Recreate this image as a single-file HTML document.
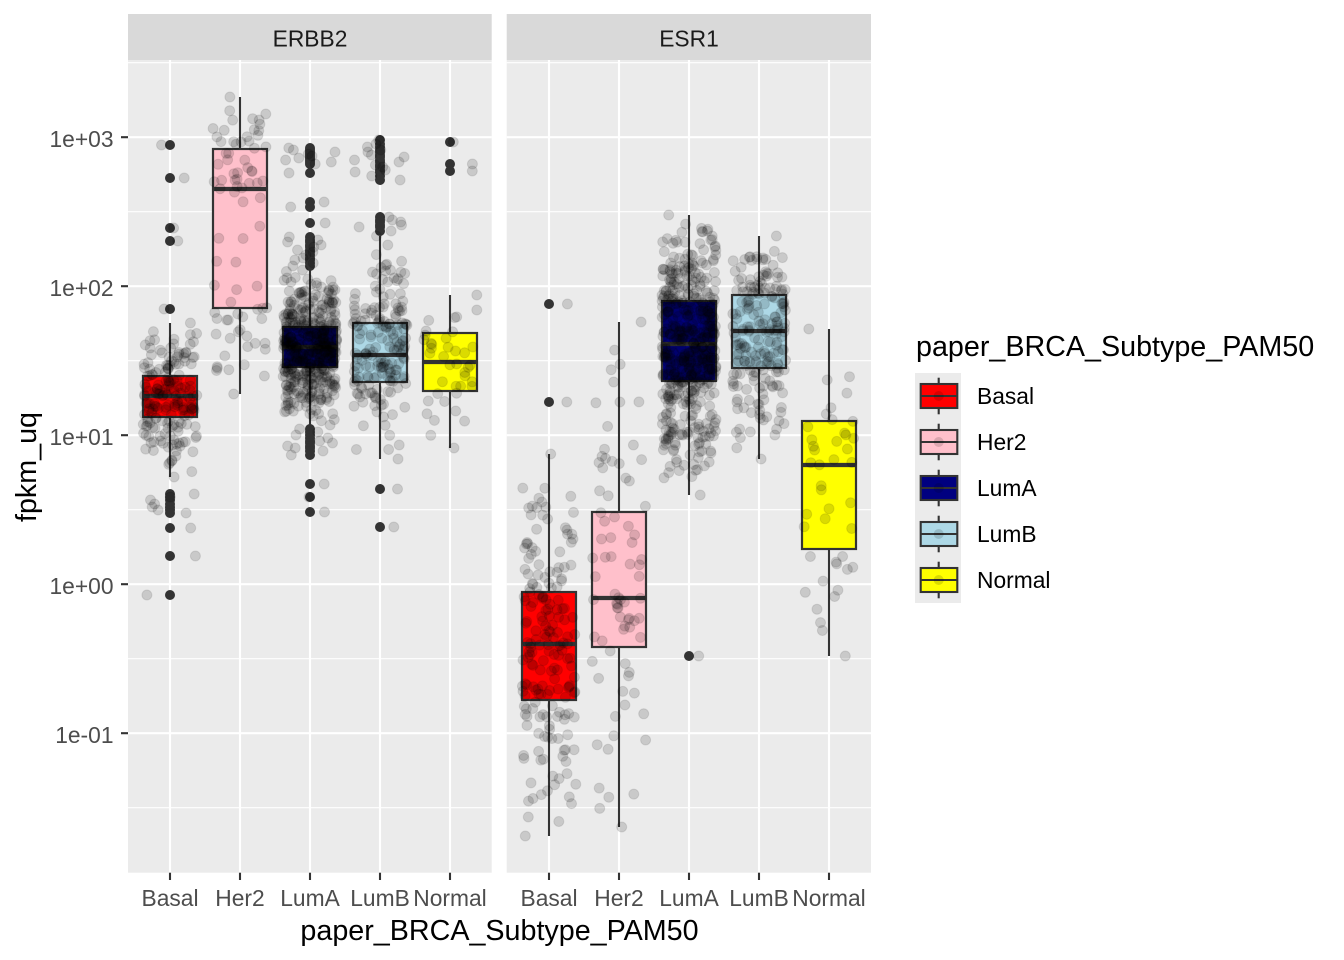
<!DOCTYPE html>
<html><head><meta charset="utf-8"><style>
html,body{margin:0;padding:0;background:#fff;}
svg{display:block;font-family:"Liberation Sans",Arial,sans-serif;}
</style></head><body>
<svg id="c" width="1344" height="960" viewBox="0 0 1344 960" xmlns="http://www.w3.org/2000/svg">
<rect width="1344" height="960" fill="#fff"/>
<!-- strips -->
<rect x="128" y="14" width="363.7" height="46" fill="#D9D9D9"/>
<rect x="506.7" y="14" width="364.3" height="46" fill="#D9D9D9"/>
<text x="310" y="46.5" font-size="22.8" text-anchor="middle" fill="#1A1A1A">ERBB2</text>
<text x="689" y="46.5" font-size="22.8" text-anchor="middle" fill="#1A1A1A">ESR1</text>
<!-- panels -->
<rect x="128" y="60" width="363.7" height="812.7" fill="#EBEBEB"/>
<rect x="506.7" y="60" width="364.3" height="812.7" fill="#EBEBEB"/>
<g stroke="#fff" stroke-width="1.1">
<line x1="128" x2="491.7" y1="62.7" y2="62.7"/><line x1="128" x2="491.7" y1="211.7" y2="211.7"/><line x1="128" x2="491.7" y1="360.7" y2="360.7"/><line x1="128" x2="491.7" y1="509.7" y2="509.7"/><line x1="128" x2="491.7" y1="658.7" y2="658.7"/><line x1="128" x2="491.7" y1="807.7" y2="807.7"/>
<line x1="506.7" x2="871" y1="62.7" y2="62.7"/><line x1="506.7" x2="871" y1="211.7" y2="211.7"/><line x1="506.7" x2="871" y1="360.7" y2="360.7"/><line x1="506.7" x2="871" y1="509.7" y2="509.7"/><line x1="506.7" x2="871" y1="658.7" y2="658.7"/><line x1="506.7" x2="871" y1="807.7" y2="807.7"/>
</g>
<g stroke="#fff" stroke-width="2.1">
<line x1="128" x2="491.7" y1="137.2" y2="137.2"/><line x1="128" x2="491.7" y1="286.2" y2="286.2"/><line x1="128" x2="491.7" y1="435.2" y2="435.2"/><line x1="128" x2="491.7" y1="584.2" y2="584.2"/><line x1="128" x2="491.7" y1="733.2" y2="733.2"/>
<line x1="506.7" x2="871" y1="137.2" y2="137.2"/><line x1="506.7" x2="871" y1="286.2" y2="286.2"/><line x1="506.7" x2="871" y1="435.2" y2="435.2"/><line x1="506.7" x2="871" y1="584.2" y2="584.2"/><line x1="506.7" x2="871" y1="733.2" y2="733.2"/>
<line x1="170" x2="170" y1="60" y2="872.7"/><line x1="240" x2="240" y1="60" y2="872.7"/><line x1="310" x2="310" y1="60" y2="872.7"/><line x1="380" x2="380" y1="60" y2="872.7"/><line x1="450" x2="450" y1="60" y2="872.7"/>
<line x1="549" x2="549" y1="60" y2="872.7"/><line x1="619" x2="619" y1="60" y2="872.7"/><line x1="689" x2="689" y1="60" y2="872.7"/><line x1="759" x2="759" y1="60" y2="872.7"/><line x1="829" x2="829" y1="60" y2="872.7"/>
</g>
<!-- outliers (filled by script) -->
<g id="out" fill="#333333"></g>
<!-- whiskers -->
<g stroke="#333333" stroke-width="2.1">
<line x1="170" x2="170" y1="323" y2="477"/>
<line x1="240" x2="240" y1="97" y2="394"/>
<line x1="310" x2="310" y1="270" y2="425"/>
<line x1="380" x2="380" y1="236" y2="459"/>
<line x1="450" x2="450" y1="295" y2="448"/>
<line x1="549" x2="549" y1="454" y2="836"/>
<line x1="619" x2="619" y1="322" y2="827"/>
<line x1="689" x2="689" y1="215" y2="495"/>
<line x1="759" x2="759" y1="236" y2="459"/>
<line x1="829" x2="829" y1="329" y2="656"/>
</g>
<!-- boxes -->
<g stroke="#333333" stroke-width="2.2">
<rect x="143" y="376" width="54" height="41" fill="#FF0000"/>
<rect x="213" y="149" width="54" height="159" fill="#FFC0CB"/>
<rect x="283" y="327" width="54" height="40" fill="#000080"/>
<rect x="353" y="323" width="54" height="59" fill="#ADD8E6"/>
<rect x="423" y="333" width="54" height="58" fill="#FFFF00"/>
<rect x="522" y="592" width="54" height="108" fill="#FF0000"/>
<rect x="592" y="512" width="54" height="135" fill="#FFC0CB"/>
<rect x="662" y="301" width="54" height="80" fill="#000080"/>
<rect x="732" y="295" width="54" height="73" fill="#ADD8E6"/>
<rect x="802" y="421" width="54" height="128" fill="#FFFF00"/>
</g>
<g stroke="#333333" stroke-width="4.3">
<line x1="143" x2="197" y1="396" y2="396"/>
<line x1="213" x2="267" y1="189" y2="189"/>
<line x1="283" x2="337" y1="347" y2="347"/>
<line x1="353" x2="407" y1="355" y2="355"/>
<line x1="423" x2="477" y1="362" y2="362"/>
<line x1="522" x2="576" y1="644" y2="644"/>
<line x1="592" x2="646" y1="598" y2="598"/>
<line x1="662" x2="716" y1="344" y2="344"/>
<line x1="732" x2="786" y1="331" y2="331"/>
<line x1="802" x2="856" y1="465" y2="465"/>
</g>
<!-- jitter points (filled by script) -->
<g id="pts" fill="#000" fill-opacity="0.14" stroke="#000" stroke-opacity="0.1" stroke-width="1"></g>
<!-- axis ticks -->
<g stroke="#333333" stroke-width="2.1">
<line x1="121" x2="128" y1="137.2" y2="137.2"/><line x1="121" x2="128" y1="286.2" y2="286.2"/><line x1="121" x2="128" y1="435.2" y2="435.2"/><line x1="121" x2="128" y1="584.2" y2="584.2"/><line x1="121" x2="128" y1="733.2" y2="733.2"/>
<line x1="170" x2="170" y1="872.7" y2="880"/><line x1="240" x2="240" y1="872.7" y2="880"/><line x1="310" x2="310" y1="872.7" y2="880"/><line x1="380" x2="380" y1="872.7" y2="880"/><line x1="450" x2="450" y1="872.7" y2="880"/>
<line x1="549" x2="549" y1="872.7" y2="880"/><line x1="619" x2="619" y1="872.7" y2="880"/><line x1="689" x2="689" y1="872.7" y2="880"/><line x1="759" x2="759" y1="872.7" y2="880"/><line x1="829" x2="829" y1="872.7" y2="880"/>
</g>
<g font-size="22.8" fill="#4D4D4D" text-anchor="end">
<text x="113.5" y="147">1e+03</text>
<text x="113.5" y="296">1e+02</text>
<text x="113.5" y="445">1e+01</text>
<text x="113.5" y="594">1e+00</text>
<text x="113.5" y="743">1e-01</text>
</g>
<g font-size="22.8" fill="#4D4D4D" text-anchor="middle">
<text x="170" y="906">Basal</text><text x="240" y="906">Her2</text><text x="310" y="906">LumA</text><text x="380" y="906">LumB</text><text x="450" y="906">Normal</text>
<text x="549" y="906">Basal</text><text x="619" y="906">Her2</text><text x="689" y="906">LumA</text><text x="759" y="906">LumB</text><text x="829" y="906">Normal</text>
</g>
<text x="499.5" y="940" font-size="28.7" text-anchor="middle" fill="#000">paper_BRCA_Subtype_PAM50</text>
<text transform="translate(36,467) rotate(-90)" font-size="28.7" text-anchor="middle" fill="#000">fpkm_uq</text>
<!-- legend -->
<text x="916" y="356" font-size="28.7" fill="#000">paper_BRCA_Subtype_PAM50</text>
<rect x="915" y="373" width="46" height="230" fill="#EBEBEB"/>
<g stroke="#333333" stroke-width="2.1">
<line x1="938.7" x2="938.7" y1="377.7" y2="414.3"/>
<line x1="938.7" x2="938.7" y1="423.7" y2="460.3"/>
<line x1="938.7" x2="938.7" y1="469.7" y2="506.3"/>
<line x1="938.7" x2="938.7" y1="515.7" y2="552.3"/>
<line x1="938.7" x2="938.7" y1="561.7" y2="598.3"/>
<rect x="920.7" y="384" width="36.6" height="24" fill="#FF0000"/>
<rect x="920.7" y="430" width="36.6" height="24" fill="#FFC0CB"/>
<rect x="920.7" y="476" width="36.6" height="24" fill="#000080"/>
<rect x="920.7" y="522" width="36.6" height="24" fill="#ADD8E6"/>
<rect x="920.7" y="568" width="36.6" height="24" fill="#FFFF00"/>
<line x1="920.7" x2="957.3" y1="396" y2="396"/>
<line x1="920.7" x2="957.3" y1="442" y2="442"/>
<line x1="920.7" x2="957.3" y1="488" y2="488"/>
<line x1="920.7" x2="957.3" y1="534" y2="534"/>
<line x1="920.7" x2="957.3" y1="580" y2="580"/>
</g>
<g fill="#000" fill-opacity="0.14">
<circle cx="938.7" cy="396" r="5"/><circle cx="938.7" cy="442" r="5"/><circle cx="938.7" cy="488" r="5"/><circle cx="938.7" cy="534" r="5"/><circle cx="938.7" cy="580" r="5"/>
</g>
<g font-size="22.8" fill="#000">
<text x="977" y="404">Basal</text>
<text x="977" y="450">Her2</text>
<text x="977" y="496">LumA</text>
<text x="977" y="542">LumB</text>
<text x="977" y="588">Normal</text>
</g>
</svg>
<script>
(function(){
var NS="http://www.w3.org/2000/svg";
var s=20240611;
function r(){s|=0;s=s+0x6D2B79F5|0;var t=Math.imul(s^s>>>15,1|s);t=t+Math.imul(t^t>>>7,61|t)^t;return((t^t>>>14)>>>0)/4294967296;}
var G=[
[170,323,376,396,417,477,175,[145,178,228,241,309,494,497,500,504,507,510,513,528,556,595]],
[240,97,149,189,308,394,78,[]],
[310,270,327,347,367,425,470,[148,150,152,154,156,158,160,162,164,173,202,207,223,237,240,242,245,247,250,252,255,258,260,263,266,429,432,435,438,441,443,446,448,451,455,484,497,512]],
[380,236,323,355,382,459,185,[140,144,147,150,152,155,157,160,162,165,167,170,172,176,180,217,220,222,225,227,231,489,527]],
[450,295,333,362,391,448,38,[142,164,171]],
[549,454,592,644,700,836,184,[304,402]],
[619,322,512,598,647,827,78,[]],
[689,215,301,344,381,495,510,[656]],
[759,236,295,331,368,459,205,[]],
[829,329,421,465,549,656,41,[]]
];
var out=document.getElementById('out'),pts=document.getElementById('pts');
function c(p,x,y,rad){var e=document.createElementNS(NS,'circle');e.setAttribute('cx',x.toFixed(1));e.setAttribute('cy',y.toFixed(1));e.setAttribute('r',rad);p.appendChild(e);}
G.forEach(function(g){
 var cx=g[0],wt=g[1],q3=g[2],m=g[3],q1=g[4],wb=g[5],n=g[6],o=g[7];
 o.forEach(function(y){c(out,cx,y,5);});
 var ys=[wt,wb];
 for(var i=0;i<n;i++){var u=r(),y;
  if(u<0.25){y=wb+(q1-wb)*Math.sqrt(u/0.25);}
  else if(u<0.5){y=q1+(m-q1)*(u-0.25)/0.25;}
  else if(u<0.75){y=m+(q3-m)*(u-0.5)/0.25;}
  else{y=wt+(q3-wt)*Math.sqrt((1-u)/0.25);}
  ys.push(y);}
 o.forEach(function(y){ys.push(y);});
 ys.forEach(function(y){c(pts,cx+(r()*2-1)*27,y,5);});
});
})();
</script>
</body></html>
